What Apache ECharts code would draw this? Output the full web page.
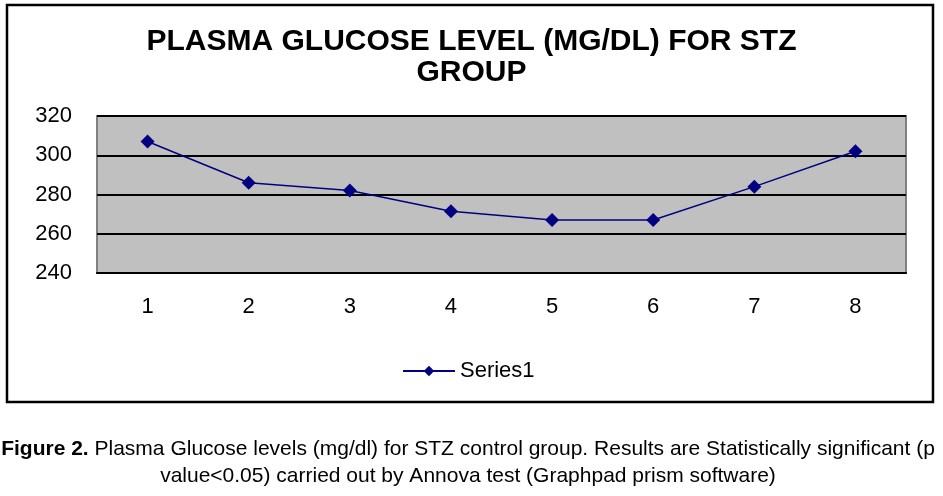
<!DOCTYPE html>
<html>
<head>
<meta charset="utf-8">
<script src="https://cdn.jsdelivr.net/npm/echarts@6/dist/echarts.min.js"></script>
<style>html,body{margin:0;padding:0;background:#fff;}#c{width:943px;height:496px;}</style>
</head>
<body>
<div id="c"></div>
<script>
const categories = ['1','2','3','4','5','6','7','8'];
const series1 = [307, 286, 282, 271.5, 267, 267, 284, 302];
const yTicks = {min: 240, max: 320, interval: 20};
const titleText = 'PLASMA GLUCOSE LEVEL (MG/DL) FOR STZ\nGROUP';
const captionBold = 'Figure 2.';
const captionLine1 = ' Plasma Glucose levels (mg/dl) for STZ control group. Results are Statistically significant (p';
const captionLine2 = 'value<0.05) carried out by Annova test (Graphpad prism software)';

const chart = echarts.init(document.getElementById('c'));
chart.setOption({
  animation: false,
  backgroundColor: '#fff',
  title: {
    text: titleText,
    left: 'center',
    top: 21,
    textStyle: {fontFamily: 'Liberation Sans, Arial', fontWeight: 'bold', fontSize: 30, color: '#000', lineHeight: 31}
  },
  grid: {left: 97, top: 116, right: 37, bottom: 223, show: true, backgroundColor: '#c0c0c0', borderColor: '#808080', borderWidth: 2},
  legend: {
    data: ['Series1'],
    left: 397, top: 355,
    itemWidth: 52, itemHeight: 13,
    textStyle: {fontFamily: 'Liberation Sans, Arial', fontSize: 22, color: '#000'},
    itemStyle: {color: '#000080'}
  },
  xAxis: {
    type: 'category', data: categories, boundaryGap: true,
    axisLine: {show: true, lineStyle: {color: '#000', width: 2}},
    axisTick: {show: false},
    axisLabel: {fontFamily: 'Liberation Sans, Arial', fontSize: 22, color: '#000', margin: 23}
  },
  yAxis: {
    type: 'value', min: yTicks.min, max: yTicks.max, interval: yTicks.interval,
    axisLine: {show: false}, axisTick: {show: false},
    axisLabel: {fontFamily: 'Liberation Sans, Arial', fontSize: 22, color: '#000', margin: 25},
    splitLine: {show: true, lineStyle: {color: '#000', width: 2}}
  },
  series: [{
    name: 'Series1', type: 'line', data: series1,
    symbol: 'diamond', symbolSize: 14,
    lineStyle: {color: '#000080', width: 1.5},
    itemStyle: {color: '#000080'}
  }],
  graphic: [
    {type: 'rect', shape: {x: 7, y: 5, width: 926, height: 397}, style: {fill: 'none', stroke: '#000', lineWidth: 2.5}, silent: true, z: -1},
    {type: 'text', x: 468, y: 449, style: {
      text: '{b|' + captionBold + '}{n|' + captionLine1 + '}',
      align: 'center', verticalAlign: 'middle',
      rich: {
        b: {fontFamily: 'Liberation Sans, Arial', fontWeight: 'bold', fontSize: 21, fill: '#000'},
        n: {fontFamily: 'Liberation Sans, Arial', fontSize: 21, fill: '#000'}
      }
    }},
    {type: 'text', x: 468, y: 476, style: {
      text: captionLine2, align: 'center', verticalAlign: 'middle',
      fontFamily: 'Liberation Sans, Arial', fontSize: 21, fill: '#000'
    }}
  ]
});
</script>
</body>
</html>
